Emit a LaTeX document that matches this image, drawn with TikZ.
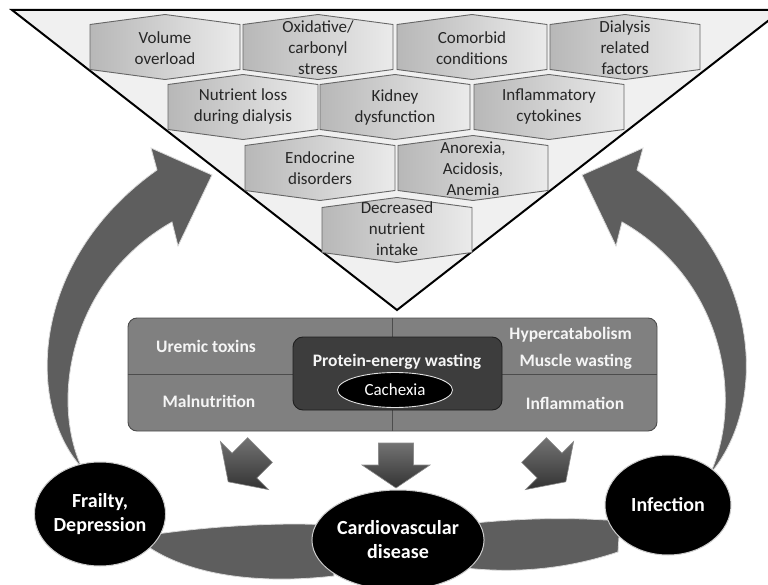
\documentclass[tikz,border=0pt]{standalone}
\usepackage{fontspec}
\setmainfont{Carlito}
\usetikzlibrary{shapes.geometric}

\tikzset{
  funnel/.style={draw=black, line width=2pt, fill=black!6},
  hexline/.style={draw=black!60, line width=0.9pt, left color=black!28, right color=black!8},
  celltext/.style={align=center, text=black!85, inner sep=0pt,
    font=\fontsize{17}{21}\selectfont},
  hexcell/.pic={\path[hexline] (-75,-22.5) -- (0,-32.5) -- (75,-22.5) -- (75,22.5)
    -- (0,32.5) -- (-75,22.5) -- cycle;},
  bigarrow/.style={fill=black!63, draw=black!15, line width=0.8pt},
  dropfill/.style={top color=black!55, bottom color=black!80, draw=black!45, line width=0.6pt},
  downarrow/.pic={\path[dropfill] (-17.5,0) -- (17.5,0) -- (17.5,22) -- (34,22) -- (0,45)
    -- (-34,22) -- (-17.5,22) -- cycle;},
  panel/.style={rectangle, rounded corners=9pt, fill=black!50, draw=black!70, line width=0.9pt,
    inner sep=0pt},
  core/.style={rectangle, rounded corners=10pt, fill=black!76, draw=black!88, line width=0.9pt,
    inner sep=0pt},
  paneltext/.style={text=black!4, inner sep=0pt, font=\bfseries\fontsize{17.5}{27}\selectfont},
  outcome/.style={ellipse, fill=black, draw=black!20, line width=1pt, text=white, align=center,
    inner sep=0pt, font=\bfseries\fontsize{20}{24}\selectfont},
}

\begin{document}
\begin{tikzpicture}[x=1pt,y=-1pt]
                \useasboundingbox (0,0) rectangle (768,585);
                \clip (0,0) rectangle (768,585);

                \draw[funnel] (12,10) -- (782,10) -- (397,310) -- cycle;

                \pic at (165,47) {hexcell};
                \pic at (318,47) {hexcell};
                \pic at (472,47) {hexcell};
                \pic at (625,47) {hexcell};
                \pic at (243,107) {hexcell};
                \pic at (395,107) {hexcell};
                \pic at (549,107) {hexcell};
                \pic at (320,168) {hexcell};
                \pic at (473,168) {hexcell};
                \pic at (397,230) {hexcell};

                \node[celltext] (volume) at (165,48) {Volume\\overload};
                \node[celltext] (oxid) at (318,48) {Oxidative/\\carbonyl\\stress};
                \node[celltext] (comorb) at (472,48) {Comorbid\\conditions};
                \node[celltext] (dialysis) at (625,48) {Dialysis\\related\\factors};
                \node[celltext] (loss) at (243,107) {Nutrient loss\\during dialysis};
                \node[celltext] (kidney) at (395,107) {Kidney\\dysfunction};
                \node[celltext] (cytok) at (549,107) {Inflammatory\\cytokines};
                \node[celltext] (endo) at (320,168) {Endocrine\\disorders};
                \node[celltext] (anorex) at (473,169) {Anorexia,\\Acidosis,\\Anemia};
                \node[celltext] (intake) at (397,229) {Decreased\\nutrient\\intake};

                \path[bigarrow] (82,468) .. controls (25,405) and (30,260) .. (157,170)
                    -- (151,148) -- (212,175) -- (178,246) -- (172,222)
                    .. controls (70,280) and (50,400) .. (82,468) -- cycle;
                \path[bigarrow] (710,474) .. controls (769,405) and (764,260) .. (637,170)
                    -- (643,148) -- (582,175) -- (616,246) -- (622,222)
                    .. controls (724,280) and (744,400) .. (710,474) -- cycle;

                \path[bigarrow] (150,535) .. controls (210,526) and (280,522) .. (330,525)
                    -- (334,576) .. controls (255,585) and (190,574) .. (150,548) -- cycle;
                \path[bigarrow] (465,524) .. controls (520,518) and (570,517) .. (620,521)
                    -- (618,552) .. controls (570,568) and (520,574) .. (465,568) -- cycle;

                \node[panel, minimum width=529, minimum height=113] (pew) at (392.5,374.5) {};
                \draw[black!70, line width=0.9pt] (pew.west) -- (pew.east);
                \draw[black!70, line width=0.9pt] (pew.north) -- (pew.south);
                \node[core, minimum width=209, minimum height=73] (pewcore) at (397.5,373.5) {};

                \node[paneltext] (uremic) at (206,346) {Uremic toxins};
                \node[paneltext] (malnut) at (209,401) {Malnutrition};
                \node[paneltext, anchor=east] (hyper) at (632,335) {Hypercatabolism};
                \node[paneltext, anchor=east] (muscle) at (632,362) {Muscle wasting};
                \node[paneltext] (inflam) at (575,403) {Inflammation};
                \node[paneltext] (wasting) at (397,362) {Protein-energy wasting};
                \node[ellipse, fill=black, draw=black!12, line width=0.9pt, text=white, inner sep=0pt,
                    minimum width=115, minimum height=35, font=\fontsize{17}{20}\selectfont]
                    (cachexia) at (395,390) {Cachexia};

                \pic[rotate=-45] at (260,450) {downarrow};
                \pic at (396,443) {downarrow};
                \pic[rotate=45] at (534,450) {downarrow};

                \node[outcome, minimum width=126, minimum height=104] (frailty) at (100,514) {Frailty,\\Depression};
                \node[outcome, minimum width=160, minimum height=100] (cardio) at (398,540) {Cardiovascular\\disease};
                \node[outcome, minimum width=126, minimum height=100] (infection) at (668,505) {Infection};
            \end{tikzpicture}
\end{document}
